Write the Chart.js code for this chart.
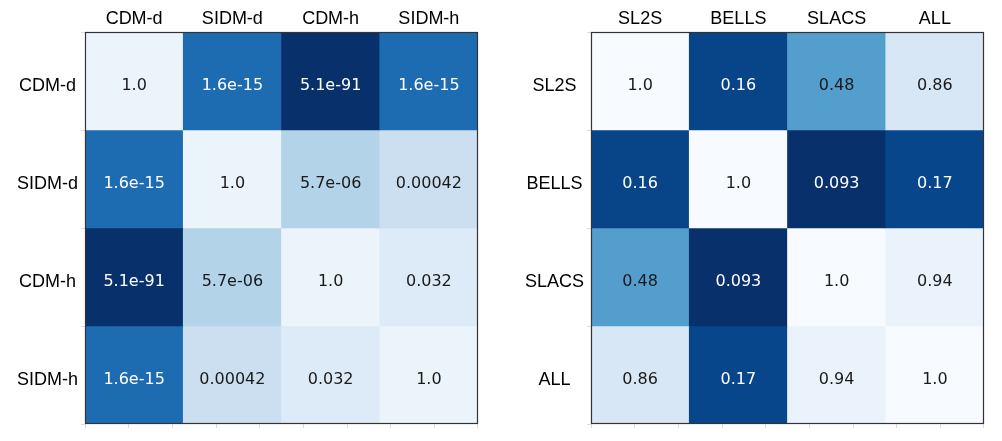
<!DOCTYPE html>
<html>
<head>
<meta charset="utf-8">
<script src="https://cdn.jsdelivr.net/npm/chart.js@4.4.1/dist/chart.umd.min.js"></script>
<style>
  html, body { margin: 0; padding: 0; background: #fff; }
  #wrap { position: relative; width: 1002px; height: 441px; }
  canvas { position: absolute; top: 0; }
</style>
</head>
<body>
<div id="wrap">
  <canvas id="leftChart" width="490" height="441" style="left:0"></canvas>
  <canvas id="rightChart" width="502" height="441" style="left:500px"></canvas>
</div>
<script>
// p-values between models (left) and between samples (right)
const modelLabels = ['CDM-d', 'SIDM-d', 'CDM-h', 'SIDM-h'];
const modelValues = [
  [1.0, 1.6e-15, 5.1e-91, 1.6e-15],
  [1.6e-15, 1.0, 5.7e-06, 0.00042],
  [5.1e-91, 5.7e-06, 1.0, 0.032],
  [1.6e-15, 0.00042, 0.032, 1.0]
];

const sampleLabels = ['SL2S', 'BELLS', 'SLACS', 'ALL'];
const sampleValues = [
  [1.0, 0.16, 0.48, 0.86],
  [0.16, 1.0, 0.093, 0.17],
  [0.48, 0.093, 1.0, 0.94],
  [0.86, 0.17, 0.94, 1.0]
];

// matplotlib "Blues"
const BLUES = ['#f7fbff', '#deebf7', '#c6dbef', '#9ecae1', '#6baed6', '#4292c6', '#2171b5', '#08519c', '#08306b'];

function hexToRgb(h) {
  return [parseInt(h.slice(1, 3), 16), parseInt(h.slice(3, 5), 16), parseInt(h.slice(5, 7), 16)];
}

function blues(t) {
  t = Math.max(0, Math.min(1, t));
  const pos = t * (BLUES.length - 1);
  const i = Math.min(Math.floor(pos), BLUES.length - 2);
  const f = pos - i;
  const a = hexToRgb(BLUES[i]), b = hexToRgb(BLUES[i + 1]);
  const c = a.map((v, k) => Math.round(v + (b[k] - v) * f));
  return `rgb(${c[0]}, ${c[1]}, ${c[2]})`;
}

// left panel is shaded on -log10(p), right panel linearly between min and max
const logShade = v => Math.min(1, 0.06 + 0.048 * -Math.log10(v));
const sampleMin = Math.min(...sampleValues.flat());
const linShade = v => (1 - v) / (1 - sampleMin);

// python-style float repr
function fmt(v) {
  if (v === 1) return '1.0';
  if (v < 1e-4) {
    const [m, e] = v.toExponential(1).split('e');
    const n = Math.abs(+e);
    return m + 'e' + (e[0] === '-' ? '-' : '+') + (n < 10 ? '0' : '') + n;
  }
  return String(v);
}

const tickFont = { family: '"Liberation Sans", Arial, Helvetica, sans-serif', size: 18 };
const cellFont = '16px "DejaVu Sans", sans-serif';

const cellText = {
  id: 'cellText',
  afterDatasetsDraw(chart, args, opts) {
    const ctx = chart.ctx;
    ctx.save();
    ctx.font = cellFont;
    ctx.textAlign = 'center';
    ctx.textBaseline = 'middle';
    chart.data.datasets.forEach((ds, i) => {
      chart.getDatasetMeta(i).data.forEach((bar, j) => {
        const v = opts.values[i][j];
        ctx.fillStyle = opts.shade(v) > 0.7 ? '#ffffff' : '#1a1a1a';
        ctx.fillText(fmt(v), bar.x, (bar.y + bar.base) / 2 + 5);
      });
    });
    ctx.restore();
  }
};

const frame = {
  id: 'frame',
  afterDraw(chart) {
    const { ctx, chartArea: a } = chart;
    ctx.save();
    ctx.strokeStyle = '#333';
    ctx.lineWidth = 1.2;
    ctx.strokeRect(a.left + 0.5, a.top + 0.5, a.right - a.left - 1, a.bottom - a.top - 1);
    ctx.restore();
  }
};

function heatmap(id, labels, values, shade, axisWidth, rightPad) {
  const n = labels.length;
  return new Chart(document.getElementById(id), {
    type: 'bar',
    data: {
      labels: labels,
      datasets: values.map((row, i) => ({
        data: row.map(() => [i, i + 1]),
        backgroundColor: row.map(v => blues(shade(v))),
        borderWidth: 0,
        grouped: false,
        barPercentage: 1,
        categoryPercentage: 1
      }))
    },
    options: {
      responsive: false,
      animation: false,
      layout: { padding: { left: 0, right: rightPad, top: 0, bottom: 0 } },
      plugins: {
        legend: { display: false },
        tooltip: { enabled: false },
        cellText: { values: values, shade: shade }
      },
      scales: {
        x: {
          type: 'category',
          position: 'top',
          grid: { display: false },
          border: { display: false },
          ticks: { font: tickFont, color: '#000', padding: -6, maxRotation: 0 },
          afterFit: s => { s.height = 32; }
        },
        xb: {
          type: 'linear',
          position: 'bottom',
          min: 0,
          max: n,
          ticks: { stepSize: 0.5, display: false },
          grid: { drawOnChartArea: false, tickLength: 4, color: '#dcdcdc' },
          border: { display: false },
          afterFit: s => { s.height = 17; }
        },
        y: { type: 'linear', min: 0, max: n, reverse: true, display: false },
        yl: {
          type: 'category',
          labels: labels,
          position: 'left',
          offset: true,
          grid: { offset: true, drawOnChartArea: false, tickLength: 4, color: '#dcdcdc' },
          border: { display: false },
          ticks: { font: tickFont, color: '#000', padding: 3, crossAlign: 'center', labelOffset: 5 },
          afterFit: s => { s.width = axisWidth; }
        }
      }
    },
    plugins: [cellText, frame]
  });
}

heatmap('leftChart', modelLabels, modelValues, logShade, 85, 12);
heatmap('rightChart', sampleLabels, sampleValues, linShade, 91, 18);
</script>
</body>
</html>
